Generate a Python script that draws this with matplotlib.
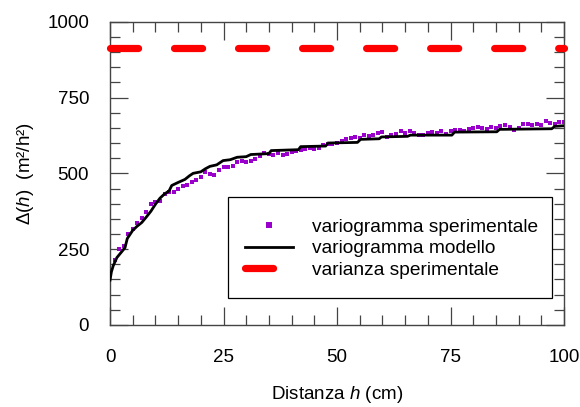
import matplotlib
matplotlib.use("Agg")
import matplotlib.pyplot as plt
from matplotlib.ticker import MultipleLocator
from matplotlib.patches import Rectangle

plt.rcParams['font.family'] = ['Liberation Sans', 'DejaVu Sans']
plt.rcParams['mathtext.fontset'] = 'custom'
plt.rcParams['mathtext.rm'] = 'Liberation Sans'
plt.rcParams['mathtext.it'] = 'Liberation Sans:italic'
plt.rcParams['lines.scale_dashes'] = False

# experimental variogram (h = 1..100)
exp_h = list(range(1, 101))
exp_v = [215, 250, 262, 300, 318, 335, 352, 372, 398, 405,
         408, 432, 438, 440, 447, 458, 462, 470, 478, 488,
         505, 498, 496, 512, 522, 520, 524, 536, 540, 538,
         540, 546, 558, 566, 565, 560, 568, 561, 565, 572,
         575, 578, 580, 584, 580, 582, 592, 596, 598, 600,
         606, 614, 616, 620, 618, 626, 622, 628, 634, 635,
         620, 626, 630, 638, 632, 640, 633, 628, 627, 632,
         636, 634, 640, 630, 638, 642, 644, 640, 646, 650,
         652, 648, 646, 654, 650, 656, 660, 652, 643, 650,
         662, 664, 660, 663, 658, 671, 666, 662, 670, 668]

# model variogram
mod_h = [0, 0.3, 0.7, 1.5, 2.6, 3.3, 3.8, 5, 6, 7, 8, 9, 10, 11, 12, 13, 13.6, 15,
         16.5, 17.5, 18.3, 20, 21, 22, 23.5, 24.9, 26.5, 28, 30, 31, 35, 35.5,
         41.5, 42, 47.5, 48, 54.5, 55.2, 59.3, 59.8, 65.5, 66.2, 75.3, 75.9,
         85.2, 85.8, 97.3, 98, 100]
mod_v = [148, 175, 195, 222, 242, 255, 285, 312, 326, 338, 356, 375, 398, 418,
         432, 442, 460, 470, 480, 492, 500, 505, 515, 523, 528, 542, 545, 553,
         555, 562, 565, 575, 578, 588, 590, 600, 602, 612, 614, 620, 622, 626,
         626, 636, 637, 645, 647, 655, 657]

# experimental variance
var_h = [0, 100]
var_v = [912, 912]

labels = ['variogramma sperimentale', 'variogramma modello', 'varianza sperimentale']

fig = plt.figure(figsize=(5.8, 4.07), dpi=100)
ax = fig.add_axes([0.1897, 0.2015, 0.9724 - 0.1897, 0.9467 - 0.2015])

ax.plot(exp_h, exp_v, linestyle='none', marker='s', markersize=3.4,
        color='#9900CC', markeredgewidth=0, label=labels[0], zorder=2)
ax.plot(mod_h, mod_v, color='black', linewidth=2.0, label=labels[1], zorder=3)
red, = ax.plot(var_h, var_v, color='#FF0000', linewidth=5.2,
               linestyle=(0, (20.2, 25.9)), label=labels[2],
               clip_on=False, zorder=4)
red.set_dash_capstyle('round')
red.set_solid_capstyle('round')

ax.set_xlim(0, 100)
ax.set_ylim(0, 1000)
ax.xaxis.set_major_locator(MultipleLocator(25))
ax.xaxis.set_minor_locator(MultipleLocator(5))
ax.yaxis.set_major_locator(MultipleLocator(250))
ax.yaxis.set_minor_locator(MultipleLocator(50))
ax.tick_params(which='both', direction='in', top=True, right=True,
               color='#444444', width=0.9)
ax.tick_params(which='major', length=13, labelsize=13.5)
ax.tick_params(axis='x', which='major', pad=17)
ax.tick_params(axis='y', which='major', pad=15)
ax.tick_params(which='minor', length=7.5)
for s in ax.spines.values():
    s.set_color('#444444')
    s.set_linewidth(1.0)

ax.set_xlabel(r'Distanza $\mathit{h}$ (cm)', fontsize=13.5, labelpad=13)
ax.set_ylabel(r'$\Delta(\mathit{h})$  (m²/h²)', fontsize=13.5, labelpad=8)

# legend box drawn as a frame, legend content centred inside it
box = Rectangle((0.260, 0.089), 0.9736 - 0.260, 0.422 - 0.089,
                transform=ax.transAxes, facecolor='white', edgecolor='black',
                linewidth=0.9, zorder=5)
ax.add_patch(box)
leg = ax.legend(loc='center', bbox_to_anchor=(0.621, 0.252),
                borderaxespad=0, fontsize=13.8, numpoints=1, frameon=False,
                borderpad=0, labelspacing=0.2, handlelength=2.5,
                handletextpad=1.0, markerscale=1.4)
leg.set_zorder(6)

fig.savefig('out.png', dpi=100)
